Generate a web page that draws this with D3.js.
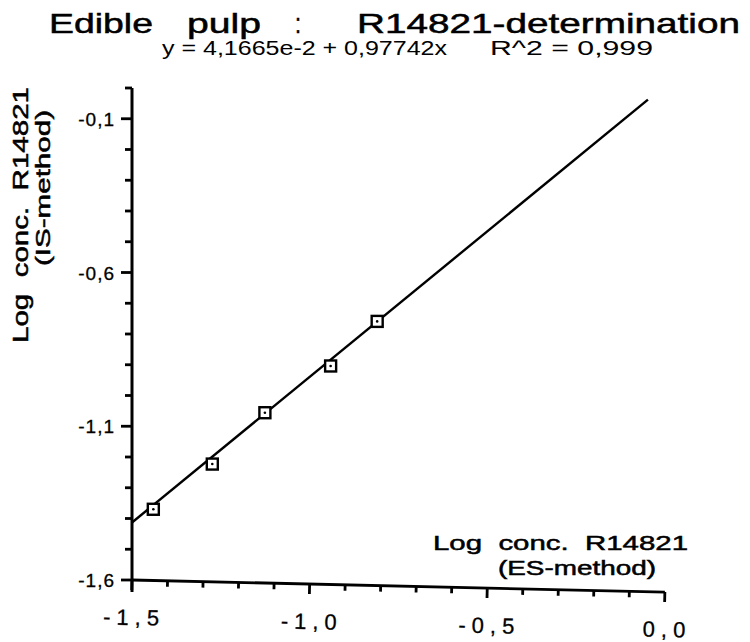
<!DOCTYPE html>
<html>
<head>
<meta charset="utf-8">
<script src="https://cdn.jsdelivr.net/npm/d3@7"></script>
<style>
  body { margin: 0; background: #fff; color: #000; }
  svg { display: block; }
</style>
</head>
<body>
<script>
// measured points (log conc., ES-method vs IS-method)
const xValues = [-1.44, -1.274, -1.126, -0.941, -0.810];
const yValues = [-1.37, -1.223, -1.056, -0.904, -0.759];

// fitted line, end points as drawn
const fitX = [-1.5, -0.048];
const fitY = [-1.413, -0.038];

const xMajor = [-1.5, -1.0, -0.5, 0.0];
const xTickLabels = ["-1,5", "-1,0", "-0,5", "0,0"];
const yMajor = [-1.6, -1.1, -0.6, -0.1];
const yTickLabels = ["-1,6", "-1,1", "-0,6", "-0,1"];

const titleWords = ["Edible", "pulp", ":", "R14821-determination"];
const equation = "y = 4,1665e-2 + 0,97742x";
const rSquared = "R^2 = 0,999";
const xLabel = ["Log  conc.  R14821", "(ES-method)"];
const yLabel = ["Log  conc.  R14821", "(IS-method)"];

const width = 750;
const height = 642;
const font = "'Liberation Sans', Arial, Helvetica, sans-serif";

const svg = d3.select("body").append("svg")
    .attr("width", width)
    .attr("height", height)
    .attr("viewBox", [0, 0, width, height])
    .attr("font-family", font);

const x = d3.scaleLinear().domain([-1.5, 0]).range([132, 665]);
const y = d3.scaleLinear().domain([-1.6, 0]).range([580, 88]);

const isMajor = (list, v) => list.some(m => Math.abs(m - v) < 1e-6);

// title
const title = svg.append("text")
    .attr("y", 33)
    .attr("font-size", 28)
    .attr("fill", "#000")
    .attr("stroke", "#000")
    .attr("stroke-width", 0.5);
const titleX = [49, 187, 295, 357];
const titleLen = [104, 74, 6, 383];
title.selectAll("tspan")
    .data(titleWords)
    .join("tspan")
    .attr("x", (d, i) => titleX[i])
    .attr("textLength", (d, i) => titleLen[i])
    .attr("lengthAdjust", "spacingAndGlyphs")
    .text(d => d);

// subtitle
svg.append("text")
    .attr("x", 162).attr("y", 55)
    .attr("font-size", 20)
    .attr("textLength", 285)
    .attr("lengthAdjust", "spacingAndGlyphs")
    .attr("xml:space", "preserve")
    .text(equation);
svg.append("text")
    .attr("x", 490).attr("y", 55)
    .attr("font-size", 20)
    .attr("textLength", 163)
    .attr("lengthAdjust", "spacingAndGlyphs")
    .attr("xml:space", "preserve")
    .text(rSquared);

const x0 = x(-1.5);
const yBase = y(-1.6);

// y axis line, running a little below the x axis
svg.append("rect")
    .attr("x", x0 - 1.5).attr("y", y(0))
    .attr("width", 3).attr("height", yBase + 12 - y(0))
    .attr("fill", "#000");

// y ticks
svg.append("g")
    .attr("fill", "#000")
    .selectAll("rect")
    .data(y.ticks(16))
    .join("rect")
    .attr("x", v => x0 - (isMajor(yMajor, v) ? 11 : 7))
    .attr("y", v => y(v) - 1.4)
    .attr("width", v => isMajor(yMajor, v) ? 11 : 7)
    .attr("height", 2.8);

svg.append("g")
    .attr("font-size", 19)
    .attr("text-anchor", "end")
    .attr("letter-spacing", 1)
    .attr("stroke", "#000")
    .attr("stroke-width", 0.3)
    .selectAll("text")
    .data(yMajor)
    .join("text")
    .attr("x", x0 - 17)
    .attr("y", d => y(d))
    .attr("dy", "0.38em")
    .text((d, i) => yTickLabels[i]);

// x axis (slightly tilted, as in the scan)
const xAx = svg.append("g")
    .attr("transform", `rotate(1.3,${x0},${yBase})`);
xAx.append("rect")
    .attr("x", x0).attr("y", yBase - 1.4)
    .attr("width", x(0) - x0).attr("height", 2.8)
    .attr("fill", "#000");
xAx.append("g")
    .attr("fill", "#000")
    .selectAll("rect")
    .data(x.ticks(15))
    .join("rect")
    .attr("x", v => x(v) - 1.4)
    .attr("y", yBase)
    .attr("width", 2.8)
    .attr("height", v => isMajor(xMajor, v) ? 10 : 6);
xAx.append("g")
    .attr("font-size", 22)
    .attr("text-anchor", "middle")
    .attr("letter-spacing", 6)
    .attr("stroke", "#000")
    .attr("stroke-width", 0.3)
    .selectAll("text")
    .data(xMajor)
    .join("text")
    .attr("x", d => x(d) + 3)
    .attr("y", yBase + 45)
    .text((d, i) => xTickLabels[i]);

// axis titles
const labels = svg.append("g")
    .attr("stroke", "#000")
    .attr("stroke-width", 0.5);
labels.append("text")
    .attr("x", 433).attr("y", 550)
    .attr("font-size", 21)
    .attr("textLength", 255)
    .attr("lengthAdjust", "spacingAndGlyphs")
    .attr("xml:space", "preserve")
    .text(xLabel[0]);
labels.append("text")
    .attr("x", 498).attr("y", 575)
    .attr("font-size", 20)
    .attr("textLength", 158)
    .attr("lengthAdjust", "spacingAndGlyphs")
    .text(xLabel[1]);
labels.append("text")
    .attr("transform", "translate(28,343) rotate(-90)")
    .attr("font-size", 22)
    .attr("textLength", 256)
    .attr("lengthAdjust", "spacingAndGlyphs")
    .attr("xml:space", "preserve")
    .text(yLabel[0]);
labels.append("text")
    .attr("transform", "translate(50,266) rotate(-90)")
    .attr("font-size", 20)
    .attr("textLength", 156)
    .attr("lengthAdjust", "spacingAndGlyphs")
    .text(yLabel[1]);

// fitted line
svg.append("path")
    .datum(d3.zip(fitX, fitY))
    .attr("fill", "none")
    .attr("stroke", "#000")
    .attr("stroke-width", 2.4)
    .attr("d", d3.line().x(d => x(d[0])).y(d => y(d[1])));

// markers: open squares with a centre dot
const pts = d3.zip(xValues, yValues);
const s = 11;
svg.append("g")
    .selectAll("rect")
    .data(pts)
    .join("rect")
    .attr("x", d => x(d[0]) - s / 2)
    .attr("y", d => y(d[1]) - s / 2)
    .attr("width", s)
    .attr("height", s)
    .attr("fill", "#fff")
    .attr("stroke", "#000")
    .attr("stroke-width", 2.4);
svg.append("g")
    .selectAll("circle")
    .data(pts)
    .join("circle")
    .attr("cx", d => x(d[0]))
    .attr("cy", d => y(d[1]))
    .attr("r", 1.3)
    .attr("fill", "#000");
</script>
</body>
</html>
